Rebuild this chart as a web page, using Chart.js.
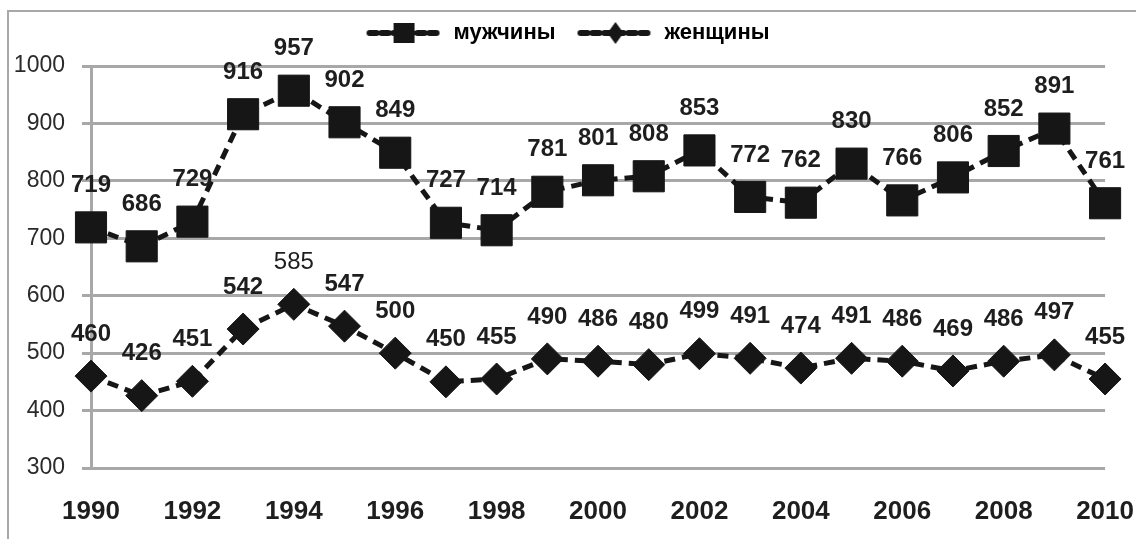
<!DOCTYPE html>
<html lang="ru">
<head>
    <meta charset="UTF-8">
    <title>мужчины / женщины</title>
    <script src="https://cdn.jsdelivr.net/npm/chart.js"></script>
    <style>
        body { margin: 0; background: #fff; }
        canvas { display: block; }
    </style>
</head>
<body>
    <canvas id="chart" width="1136" height="539"></canvas>

    <script>
        const years = ["1990", "1991", "1992", "1993", "1994", "1995", "1996", "1997", "1998", "1999", "2000",
                       "2001", "2002", "2003", "2004", "2005", "2006", "2007", "2008", "2009", "2010"];
        const men =   [719, 686, 729, 916, 957, 902, 849, 727, 714, 781, 801, 808, 853, 772, 762, 830, 766, 806, 852, 891, 761];
        const women = [460, 426, 451, 542, 585, 547, 500, 450, 455, 490, 486, 480, 499, 491, 474, 491, 486, 469, 486, 497, 455];

        const FONT = "'Liberation Sans', Arial, sans-serif";
        const INK = "#161616";
        const GRID = "#a8a8a8";

        // legend swatch: dashed line with marker in the middle
        function legendSwatch(shape) {
            const c = document.createElement("canvas");
            c.width = 78; c.height = 24;
            const g = c.getContext("2d");
            g.strokeStyle = INK;
            g.lineWidth = 6;
            g.lineCap = "round";
            g.setLineDash([7, 5]);
            g.beginPath();
            g.moveTo(4, 12); g.lineTo(74, 12);
            g.stroke();
            g.fillStyle = INK;
            if (shape === "square") {
                g.fillRect(28, 2, 21, 20);
            } else {
                g.beginPath();
                g.moveTo(39, 1); g.lineTo(47, 12); g.lineTo(39, 23); g.lineTo(31, 12);
                g.closePath();
                g.fill();
            }
            return c;
        }

        const frame = {
            id: "frame",
            beforeDraw(chart) {
                const ctx = chart.ctx;
                ctx.save();
                ctx.fillStyle = "#fff";
                ctx.fillRect(0, 0, chart.width, chart.height);
                ctx.strokeStyle = GRID;
                ctx.lineWidth = 2;
                ctx.strokeRect(8, 11, 1300, 700);
                ctx.restore();
            }
        };

        const valueLabels = {
            id: "valueLabels",
            afterDatasetsDraw(chart) {
                const ctx = chart.ctx;
                ctx.save();
                ctx.fillStyle = "#1e1e1e";
                ctx.textAlign = "center";
                ctx.textBaseline = "middle";
                chart.data.datasets.forEach((ds, i) => {
                    const meta = chart.getDatasetMeta(i);
                    meta.data.forEach((pt, j) => {
                        const plain = (ds.plainLabels || []).includes(j);
                        ctx.font = (plain ? "" : "bold ") + "24px " + FONT;
                        ctx.fillText(ds.data[j], pt.x, pt.y - 42);
                    });
                });
                ctx.restore();
            }
        };

        new Chart(document.getElementById("chart"), {
            type: "line",
            data: {
                labels: years,
                datasets: [{
                    label: "мужчины",
                    data: men,
                    borderColor: INK,
                    backgroundColor: INK,
                    borderWidth: 5,
                    borderDash: [11, 7],
                    tension: 0,
                    pointStyle: "rect",
                    pointRadius: 22,
                    pointHoverRadius: 22,
                    pointBorderWidth: 1,
                    clip: false
                }, {
                    label: "женщины",
                    data: women,
                    plainLabels: [4],
                    borderColor: INK,
                    backgroundColor: INK,
                    borderWidth: 5,
                    borderDash: [11, 7],
                    tension: 0,
                    pointStyle: "rectRot",
                    pointRadius: 16,
                    pointHoverRadius: 16,
                    pointBorderWidth: 1,
                    clip: false
                }]
            },
            options: {
                responsive: false,
                animation: false,
                layout: { padding: { left: 0, right: 0, top: 0, bottom: 0 } },
                plugins: {
                    tooltip: { enabled: false },
                    legend: {
                        position: "top",
                        labels: {
                            usePointStyle: true,
                            pointStyleWidth: 76,
                            padding: 22,
                            color: "#1e1e1e",
                            font: { family: FONT, size: 22, weight: "bold" },
                            generateLabels(chart) {
                                return chart.data.datasets.map((ds, i) => ({
                                    text: ds.label,
                                    pointStyle: legendSwatch(i === 0 ? "square" : "diamond"),
                                    fillStyle: INK,
                                    strokeStyle: INK,
                                    lineWidth: 0,
                                    hidden: false,
                                    datasetIndex: i
                                }));
                            }
                        }
                    }
                },
                scales: {
                    xTop: {
                        type: "category",
                        position: "top",
                        grid: { display: false },
                        border: { display: false },
                        ticks: { display: false },
                        afterFit(scale) { scale.height = 12; }
                    },
                    x: {
                        position: "bottom",
                        grid: { display: false, drawTicks: true, tickLength: 26 },
                        border: { display: false },
                        ticks: {
                            autoSkip: false,
                            maxRotation: 0,
                            padding: 2,
                            color: "#1e1e1e",
                            font: { family: FONT, size: 26, weight: "bold" },
                            callback(value, index) {
                                return index % 2 === 0 ? years[index] : "";
                            }
                        },
                        afterFit(scale) { scale.height = 71; }
                    },
                    y: {
                        min: 300,
                        max: 1000,
                        ticks: {
                            stepSize: 100,
                            padding: 17,
                            color: "#2a2a2a",
                            font: { family: FONT, size: 23 },
                            callback(value) { return String(value); }
                        },
                        grid: { color: GRID, lineWidth: 3, tickLength: 9 },
                        border: { display: true, color: GRID, width: 3 },
                        afterFit(scale) { scale.width = 91; }
                    }
                }
            },
            plugins: [frame, valueLabels]
        });
    </script>
</body>
</html>
